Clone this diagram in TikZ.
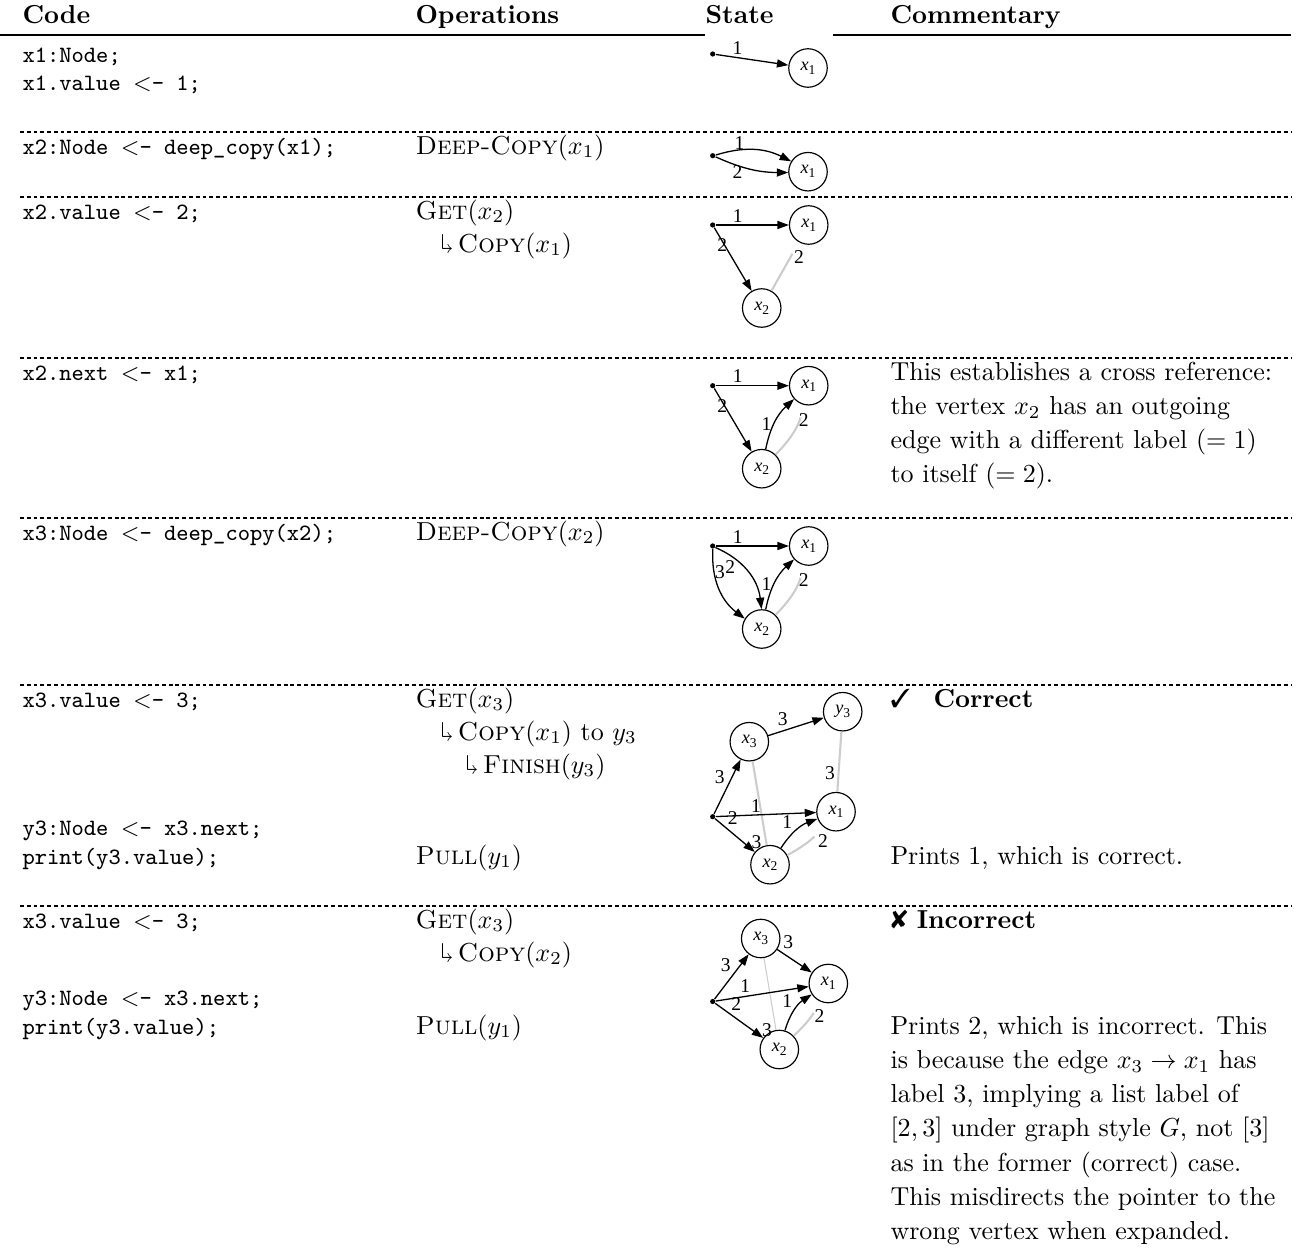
\documentclass[tikz,border=0pt]{standalone}
\usepackage{amsmath,amssymb}
\usepackage{graphicx}
\usepackage{pifont}
\usepackage{fontspec}
\newfontfamily\gvfont{Liberation Serif}
\usetikzlibrary{arrows.meta}

\newcommand{\gv}[2]{\textit{#1}\raisebox{-0.45ex}{\fontsize{5.2}{6}\selectfont #2}}
\newcommand{\hook}{\rotatebox[origin=c]{180}{$\Lsh$}\,}
\newcommand{\notebox}[1]{\parbox[t]{165pt}{\fontsize{10}{13.2}\selectfont\raggedright #1}}

\tikzset{
  hdr/.style={anchor=base west, inner sep=0pt, font=\bfseries},
  txt/.style={anchor=base west, inner sep=0pt},
  codeline/.style={anchor=base west, inner sep=0pt, font=\small\ttfamily},
  rowsep/.style={line width=0.4pt, dash pattern=on 1.5pt off 1.1pt},
  vtx/.style={circle, draw, line width=0.45pt, minimum size=14.8pt, inner sep=0pt,
    font=\gvfont\fontsize{7}{8}\selectfont},
  src/.style={circle, fill, minimum size=2pt, inner sep=0pt},
  ptr/.style={-{Triangle[length=4.4pt,width=3.1pt]}, line width=0.5pt},
  ref/.style={draw=black!20, line width=0.8pt},
  back/.style={ref, shorten <=5pt},
  elab/.style={font=\gvfont\fontsize{7.5}{8}\selectfont, inner sep=0.8pt},
}

\begin{document}
\begin{tikzpicture}[x=0.3846pt,y=-0.3846pt]
\useasboundingbox (0,0) rectangle (1297,1256);

% header
\node[hdr] (hcode) at (22,23) {Code};
\node[hdr] (hops) at (415,23) {Operations};
\node[hdr] (hstate) at (705,23) {State};
\node[hdr] (hnote) at (890,23) {Commentary};
\draw[line width=0.6pt] (0,35) -- (705,35) (833,35) -- (1291,35);

% row separators
\foreach \y in {132,197,358,518,685,906}
  \draw[rowsep] (20,\y) -- (1291,\y);

% code column
\node[codeline] (c1a) at (22,62) {x1:Node;};
\node[codeline] (c1b) at (22,90) {x1.value $<$- 1;};
\node[codeline] (c2) at (22,154) {x2:Node $<$- deep\_copy(x1);};
\node[codeline] (c3) at (22,219) {x2.value $<$- 2;};
\node[codeline] (c4) at (22,380) {x2.next $<$- x1;};
\node[codeline] (c5) at (22,540) {x3:Node $<$- deep\_copy(x2);};
\node[codeline] (c6a) at (22,707) {x3.value $<$- 3;};
\node[codeline] (c6b) at (22,835) {y3:Node $<$- x3.next;};
\node[codeline] (c6c) at (22,864) {print(y3.value);};
\node[codeline] (c7a) at (22,928) {x3.value $<$- 3;};
\node[codeline] (c7b) at (22,1005) {y3:Node $<$- x3.next;};
\node[codeline] (c7c) at (22,1034) {print(y3.value);};

% operations column
\node[txt] (o2) at (415,154) {\textsc{Deep-Copy}$(x_1)$};
\node[txt] (o3a) at (415,219) {\textsc{Get}$(x_2)$};
\node[txt] (o3b) at (440,252) {\hook\textsc{Copy}$(x_1)$};
\node[txt] (o5) at (415,540) {\textsc{Deep-Copy}$(x_2)$};
\node[txt] (o6a) at (415,707) {\textsc{Get}$(x_3)$};
\node[txt] (o6b) at (440,740) {\hook\textsc{Copy}$(x_1)$ to $y_3$};
\node[txt] (o6c) at (465,773) {\hook\textsc{Finish}$(y_3)$};
\node[txt] (o6d) at (415,864) {\textsc{Pull}$(y_1)$};
\node[txt] (o7a) at (415,928) {\textsc{Get}$(x_3)$};
\node[txt] (o7b) at (440,961) {\hook\textsc{Copy}$(x_2)$};
\node[txt] (o7c) at (415,1034) {\textsc{Pull}$(y_1)$};

% commentary column
\node[txt] (n4) at (890,380) {\notebox{This establishes a cross reference:\\
  the vertex $x_2$ has an outgoing\\ edge with a different label $(=1)$\\ to itself $(=2)$.}};
\node[txt] (n6a) at (890,707) {\ding{51}\hspace{0.9em}\textbf{Correct}};
\node[txt] (n6b) at (890,864) {Prints 1, which is correct.};
\node[txt] (n7a) at (890,928) {\ding{56}\ \textbf{Incorrect}};
\node[txt] (n7b) at (890,1034) {\notebox{Prints 2, which is incorrect. This\\
  is because the edge $x_3\to x_1$ has\\ label 3, implying a list label of\\
  $[2,3]$ under graph style $G$, not $[3]$\\ as in the former (correct) case.\\
  This misdirects the pointer to the\\ wrong vertex when expanded.}};

% state graphs
\begin{scope}[shift={(712.7,54)}]
  \node[src] (g1s) at (0,0) {};
  \node[vtx] (g1x1) at (95.3,14) {\gv{x}{1}};
  \draw[ptr] (g1s) -- node[elab,pos=0.3,above]{1} (g1x1);
\end{scope}

\begin{scope}[shift={(712.7,155.7)}]
  \node[src] (g2s) at (0,0) {};
  \node[vtx] (g2x1) at (95.3,16) {\gv{x}{1}};
  \draw[ptr] (g2s) to[bend left=22] node[elab,pos=0.3,above=-1pt]{1} (g2x1);
  \draw[ptr] (g2s) to[bend right=12] node[elab,pos=0.3,below=-1pt]{2} (g2x1);
\end{scope}

\begin{scope}[shift={(712.7,225)}]
  \node[src] (g3s) at (0,0) {};
  \node[vtx] (g3x1) at (96,0) {\gv{x}{1}};
  \node[vtx] (g3x2) at (49,83) {\gv{x}{2}};
  \draw[back] (g3x1) -- node[elab,pos=0,below=2pt]{2} (g3x2);
  \draw[ptr] (g3s) -- node[elab,pos=0.3,above]{1} (g3x1);
  \draw[ptr] (g3s) -- node[elab,pos=0.28,left=-2pt]{2} (g3x2);
\end{scope}

\begin{scope}[shift={(712.7,385.7)}]
  \node[src] (g4s) at (0,0) {};
  \node[vtx] (g4x1) at (96,0) {\gv{x}{1}};
  \node[vtx] (g4x2) at (49,83) {\gv{x}{2}};
  \draw[back] (g4x1) to[bend left=15] node[elab,pos=0,below=2pt]{2} (g4x2);
  \draw[ptr] (g4s) -- node[elab,pos=0.3,above]{1} (g4x1);
  \draw[ptr] (g4s) -- node[elab,pos=0.28,left=-2pt]{2} (g4x2);
  \draw[ptr] (g4x2) to[bend left=18] node[elab,pos=0.45,left]{1} (g4x1);
\end{scope}

\begin{scope}[shift={(712.7,546)}]
  \node[src] (g5s) at (0,0) {};
  \node[vtx] (g5x1) at (96,0) {\gv{x}{1}};
  \node[vtx] (g5x2) at (49,83) {\gv{x}{2}};
  \draw[back] (g5x1) to[bend left=15] node[elab,pos=0,below=2pt]{2} (g5x2);
  \draw[ptr] (g5s) -- node[elab,pos=0.3,above]{1} (g5x1);
  \draw[ptr] (g5s) to[bend left=30] node[elab,pos=0.25,auto,swap,xshift=1.6pt]{2} (g5x2);
  \draw[ptr] (g5s) to[bend right=28] node[elab,pos=0.4,auto,xshift=-1.6pt]{3} (g5x2);
  \draw[ptr] (g5x2) to[bend left=18] node[elab,pos=0.45,left]{1} (g5x1);
\end{scope}

\begin{scope}[shift={(712.7,816.7)}]
  \node[src] (g6s) at (0,0) {};
  \node[vtx] (g6x3) at (36.6,-75) {\gv{x}{3}};
  \node[vtx] (g6y3) at (130,-105) {\gv{y}{3}};
  \node[vtx] (g6x1) at (123.3,-5) {\gv{x}{1}};
  \node[vtx] (g6x2) at (57.3,48) {\gv{x}{2}};
  \draw[ref] (g6x3) -- node[elab,pos=0.85,auto,swap]{3} (g6x2);
  \draw[ref] (g6y3) -- node[elab,pos=0.85,auto,swap]{3} (g6x1);
  \draw[back] (g6x1) to[bend left=10] node[elab,pos=0,below=2pt]{2} (g6x2);
  \draw[ptr] (g6s) -- node[elab,pos=0.5,auto]{3} (g6x3);
  \draw[ptr] (g6x3) -- node[elab,pos=0.4,auto]{3} (g6y3);
  \draw[ptr] (g6s) -- node[elab,pos=0.4,auto]{1} (g6x1);
  \draw[ptr] (g6s) -- node[elab,pos=0.25,auto]{2} (g6x2);
  \draw[ptr] (g6x2) to[bend left=18] node[elab,pos=0.45,auto]{1} (g6x1);
\end{scope}

\begin{scope}[shift={(712.7,1001.5)}]
  \node[src] (g7s) at (0,0) {};
  \node[vtx] (g7x3) at (48,-63) {\gv{x}{3}};
  \node[vtx] (g7x1) at (115.6,-18) {\gv{x}{1}};
  \node[vtx] (g7x2) at (66.6,48) {\gv{x}{2}};
  \draw[ref,line width=0.4pt] (g7x3) -- node[elab,pos=0.88,auto,swap]{3} (g7x2);
  \draw[back] (g7x1) to[bend left=10] node[elab,pos=0,below=2pt]{2} (g7x2);
  \draw[ptr] (g7s) -- node[elab,pos=0.55,auto]{3} (g7x3);
  \draw[ptr] (g7x3) -- node[elab,pos=0.1,auto]{3} (g7x1);
  \draw[ptr] (g7s) -- node[elab,pos=0.4,auto]{1} (g7x1);
  \draw[ptr] (g7s) -- node[elab,pos=0.28,auto]{2} (g7x2);
  \draw[ptr] (g7x2) to[bend left=20] node[elab,pos=0.5,auto]{1} (g7x1);
\end{scope}
\end{tikzpicture}
\end{document}
